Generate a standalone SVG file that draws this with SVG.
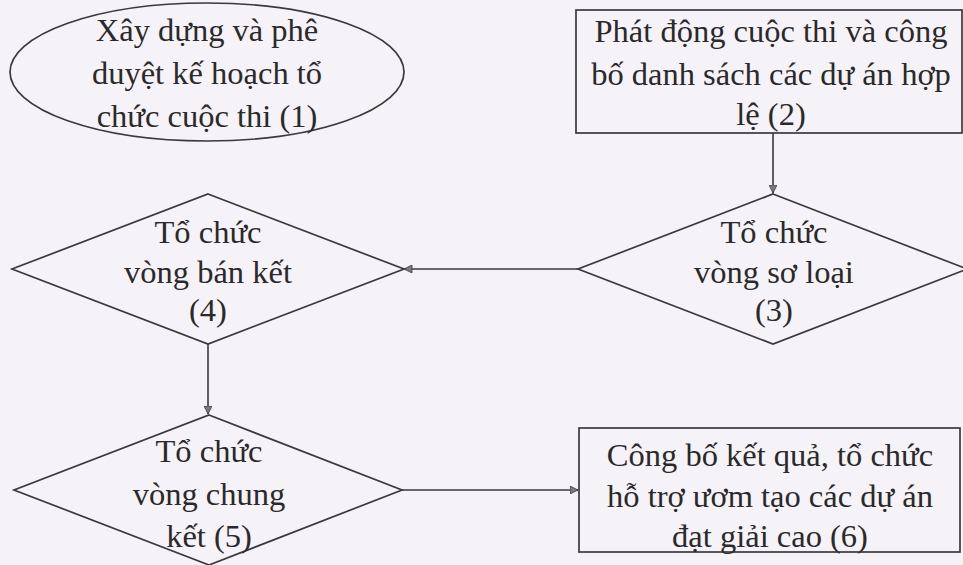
<svg xmlns="http://www.w3.org/2000/svg" width="963" height="565" viewBox="0 0 963 565">
  <style>
    .shape { fill: none; stroke: #3a3a3a; stroke-width: 1.7; }
    .lbl { font-family: "Liberation Serif", "Times New Roman", serif; font-size: 32.5px; fill: #2a2a2a; text-anchor: middle; }
    .conn { stroke: #3a3a3a; stroke-width: 1.6; fill: none; }
  </style>
  <defs>
    <marker id="arr" viewBox="0 0 10 10" refX="10" refY="5" markerWidth="9" markerHeight="8" orient="auto" markerUnits="userSpaceOnUse">
      <path d="M0,0 L10,5 L0,10 Z" fill="#7a7a7a" stroke="#3a3a3a" stroke-width="1"/>
    </marker>
  </defs>
  <rect width="963" height="565" fill="#f6f3f8"/>

  <g id="connectors">
    <line class="conn" x1="773" y1="133" x2="773" y2="193" marker-end="url(#arr)"/>
    <line class="conn" x1="578" y1="269" x2="404" y2="269" marker-end="url(#arr)"/>
    <line class="conn" x1="208" y1="344" x2="208" y2="414" marker-end="url(#arr)"/>
    <line class="conn" x1="402" y1="490" x2="578" y2="490" marker-end="url(#arr)"/>
  </g>

  <g id="node1">
    <ellipse class="shape" cx="207" cy="72" rx="197" ry="69"/>
    <text class="lbl" x="207" y="41">Xây dựng và phê</text>
    <text class="lbl" x="207" y="84">duyệt kế hoạch tổ</text>
    <text class="lbl" x="207" y="127">chức cuộc thi (1)</text>
  </g>

  <g id="node2">
    <rect class="shape" x="576" y="10" width="386" height="123"/>
    <text class="lbl" x="771" y="42">Phát động cuộc thi và công</text>
    <text class="lbl" x="771" y="85">bố danh sách các dự án hợp</text>
    <text class="lbl" x="771" y="125">lệ (2)</text>
  </g>

  <g id="node3">
    <polygon class="shape" points="773,194 967,269 773,344 578,269"/>
    <text class="lbl" x="774" y="243">Tổ chức</text>
    <text class="lbl" x="774" y="283">vòng sơ loại</text>
    <text class="lbl" x="774" y="321">(3)</text>
  </g>

  <g id="node4">
    <polygon class="shape" points="208,194 404,269 208,344 12,269"/>
    <text class="lbl" x="208" y="243">Tổ chức</text>
    <text class="lbl" x="208" y="283">vòng bán kết</text>
    <text class="lbl" x="208" y="321">(4)</text>
  </g>

  <g id="node5">
    <polygon class="shape" points="209,415 402,490 209,565 14,490"/>
    <text class="lbl" x="209" y="462">Tổ chức</text>
    <text class="lbl" x="209" y="505">vòng chung</text>
    <text class="lbl" x="209" y="547">kết (5)</text>
  </g>

  <g id="node6">
    <rect class="shape" x="579" y="428" width="381" height="124"/>
    <text class="lbl" x="770" y="466">Công bố kết quả, tổ chức</text>
    <text class="lbl" x="770" y="507">hỗ trợ ươm tạo các dự án</text>
    <text class="lbl" x="770" y="547">đạt giải cao (6)</text>
  </g>
</svg>
